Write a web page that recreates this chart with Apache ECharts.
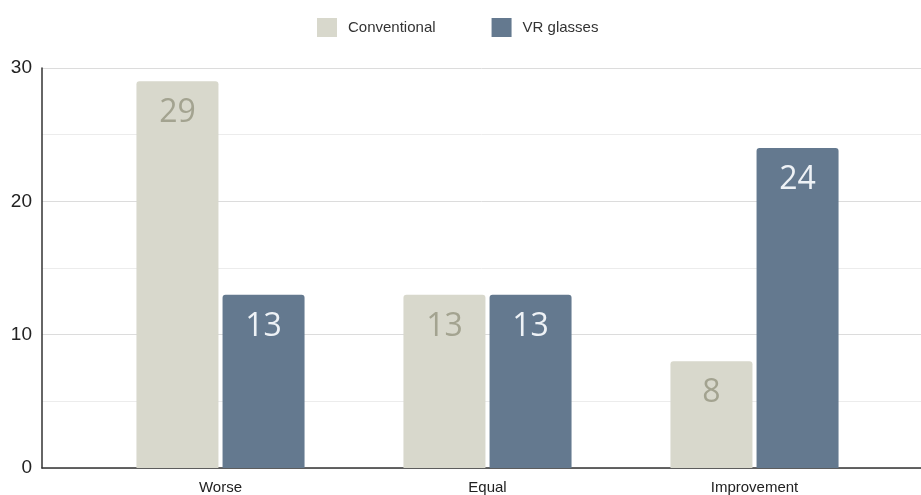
<!DOCTYPE html>
<html>
<head>
<meta charset="utf-8">
<script src="https://cdn.jsdelivr.net/npm/echarts@6/dist/echarts.min.js"></script>
<style>
  html, body { margin: 0; padding: 0; background: #ffffff; }
  #chart { width: 921px; height: 495px; }
</style>
</head>
<body>
<div id="chart"></div>
<script>
// 数据
const categories = ['Worse', 'Equal', 'Improvement']
const conventional = [29, 13, 8]
const vrGlasses = [13, 13, 24]
const yTicks = [0, 10, 20, 30]

const chart = echarts.init(document.getElementById('chart'))

const option = {
  animation: false,
  backgroundColor: '#ffffff',
  legend: {
    top: 13,
    left: 312,
    itemWidth: 20,
    itemHeight: 19,
    itemGap: 56,
    icon: 'rect',
    textStyle: { fontFamily: 'Liberation Sans', fontSize: 15, color: '#333', padding: [0, 0, 0, 6] },
    data: ['Conventional', 'VR glasses']
  },
  grid: [
    // 坐标轴和网格线
    { left: 42, right: 0, top: 68, bottom: 27 },
    // 柱子
    { left: 87, right: 33, top: 68, bottom: 27 }
  ],
  xAxis: [
    {
      gridIndex: 0,
      type: 'value',
      min: 0,
      max: 1,
      axisLine: { show: true, lineStyle: { color: '#333', width: 1.5 } },
      axisTick: { show: false },
      axisLabel: { show: false },
      splitLine: { show: false }
    },
    {
      gridIndex: 1,
      type: 'category',
      data: categories,
      axisLine: { show: false },
      axisTick: { show: false },
      axisLabel: {
        margin: 12,
        fontFamily: 'Liberation Sans',
        fontSize: 15,
        color: '#222'
      }
    }
  ],
  yAxis: [
    {
      gridIndex: 0,
      type: 'value',
      min: yTicks[0],
      max: yTicks[yTicks.length - 1],
      interval: 10,
      axisLine: { show: true, lineStyle: { color: '#333', width: 1.5 } },
      axisTick: { show: false },
      axisLabel: {
        margin: 10,
        fontFamily: 'Liberation Sans',
        fontSize: 19,
        color: '#222'
      },
      splitLine: { show: true, lineStyle: { color: '#dcdcdc', width: 1 } },
      minorTick: { show: false, splitNumber: 2 },
      minorSplitLine: { show: true, lineStyle: { color: '#ececec', width: 1 } }
    },
    {
      gridIndex: 1,
      type: 'value',
      min: 0,
      max: 30,
      show: false
    }
  ],
  series: [
    {
      name: 'Conventional',
      type: 'bar',
      xAxisIndex: 1,
      yAxisIndex: 1,
      data: conventional,
      barWidth: 82,
      barGap: '5%',
      itemStyle: { color: '#d8d8cc', borderRadius: [3, 3, 0, 0] },
      label: {
        show: true,
        position: 'insideTop',
        distance: 16,
        fontFamily: 'Open Sans',
        fontSize: 32,
        color: '#a3a390'
      }
    },
    {
      name: 'VR glasses',
      type: 'bar',
      xAxisIndex: 1,
      yAxisIndex: 1,
      data: vrGlasses,
      barWidth: 82,
      barGap: '5%',
      itemStyle: { color: '#64798f', borderRadius: [3, 3, 0, 0] },
      label: {
        show: true,
        position: 'insideTop',
        distance: 16,
        fontFamily: 'Open Sans',
        fontSize: 32,
        color: '#eef2f6'
      }
    }
  ]
}

chart.setOption(option)
</script>
</body>
</html>
